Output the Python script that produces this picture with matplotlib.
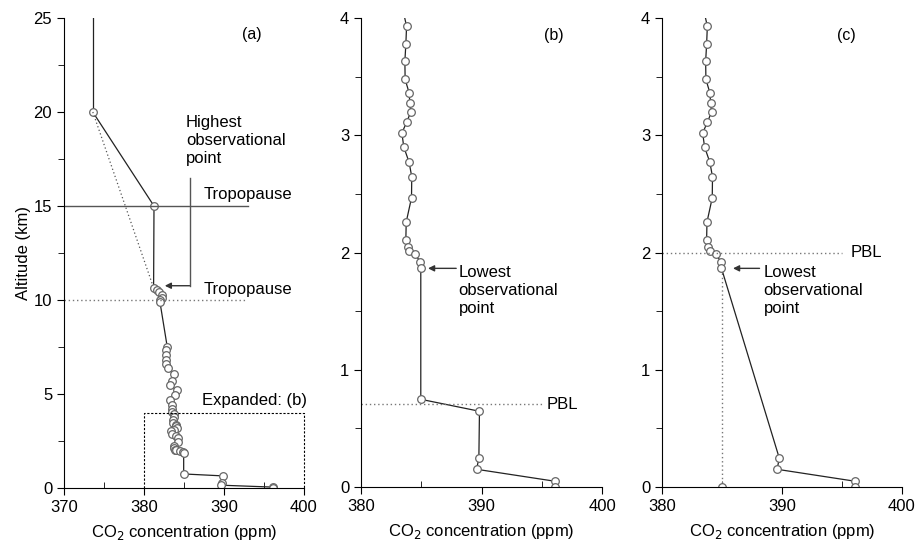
import matplotlib
matplotlib.use("Agg")
import matplotlib.pyplot as plt
from matplotlib.ticker import MultipleLocator
import numpy as np

plt.rcParams['font.family'] = ['Liberation Sans', 'DejaVu Sans']

# ---- data: measured profile (altitude km, CO2 ppm), top to bottom ----
alt_upper = [10.65, 10.53, 10.41, 10.27, 10.12, 10.00, 9.88, 7.52, 7.34, 7.07, 6.81,
             6.58, 6.37, 6.05, 5.69, 5.48, 5.21, 4.95, 4.68, 4.41, 4.20, 4.06]
co2_upper = [381.2, 381.6, 381.9, 382.2, 382.2, 382.0, 382.0, 382.9, 382.8, 382.75, 382.8,
             382.75, 383.0, 383.7, 383.5, 383.2, 384.1, 383.9, 383.3, 383.5, 383.5, 383.5]

alt_mid = [3.93, 3.776, 3.633, 3.477, 3.363, 3.278, 3.20, 3.11, 3.02, 2.90, 2.77,
           2.646, 2.467, 2.26, 2.11, 2.044, 2.015, 1.99, 1.92, 1.865]
co2_mid = [383.78, 383.72, 383.64, 383.66, 383.99, 384.05, 384.13, 383.78, 383.39, 383.55,
           383.99, 384.21, 384.19, 383.75, 383.72, 383.86, 383.99, 384.49, 384.9, 384.96]

alt_pbl = [0.748, 0.646]
co2_pbl = [384.96, 389.83]

alt_low = [0.245, 0.151, 0.049, 0.0]
co2_low = [389.78, 389.59, 396.09, 396.09]

# extrapolation above the highest observational point (panel a)
alt_strat = [25.0, 20.0, 15.0]
co2_strat = [373.6, 373.6, 381.25]

tropopause_obs = 15.0
tropopause_est = 10.0
pbl_b = 0.705
pbl_c = 2.0
surface_fill_co2 = 385.0

alt_all = alt_upper + alt_mid + alt_pbl + alt_low
co2_all = co2_upper + co2_mid + co2_pbl + co2_low
alt_c = alt_upper + alt_mid + alt_low
co2_c = co2_upper + co2_mid + co2_low

LC = '#222222'
MC = '#666666'
DOT = (0, (1, 2))
FS = 12

fig = plt.figure(figsize=(9.17, 5.44), dpi=100)
axA = fig.add_axes([0.0698, 0.1029, 0.2617, 0.864])
axB = fig.add_axes([0.3937, 0.1048, 0.2628, 0.862])
axC = fig.add_axes([0.7219, 0.1048, 0.2617, 0.862])

mk = dict(marker='o', markersize=5.5, markerfacecolor='white', markeredgecolor=MC,
          markeredgewidth=0.9, color=LC, lw=0.9)
mk_only = {k: v for k, v in mk.items() if k not in ('color', 'lw')}

def style(ax, xlim, ylim, xmaj, xmin, ymaj, ymin):
    ax.set_xlim(*xlim)
    ax.set_ylim(*ylim)
    for s in ('top', 'right'):
        ax.spines[s].set_visible(False)
    ax.xaxis.set_major_locator(MultipleLocator(xmaj))
    ax.xaxis.set_minor_locator(MultipleLocator(xmin))
    ax.yaxis.set_major_locator(MultipleLocator(ymaj))
    ax.yaxis.set_minor_locator(MultipleLocator(ymin))
    ax.tick_params(axis='x', which='major', direction='out', length=5, labelsize=12)
    ax.tick_params(axis='x', which='minor', direction='in', length=4)
    ax.tick_params(axis='y', which='major', direction='out', length=5, labelsize=12)
    ax.tick_params(axis='y', which='minor', direction='out', length=4)
    ax.set_xlabel('CO$_2$ concentration (ppm)', fontsize=FS, labelpad=6)

# ---- panel (a) ----
style(axA, (370, 400), (0, 25), 10, 5, 5, 2.5)
axA.set_ylabel('Altitude (km)', fontsize=FS, labelpad=2)
axA.plot(co2_strat[:2], alt_strat[:2], color=LC, lw=0.9)
axA.plot(co2_strat[1:] + [co2_upper[0]], alt_strat[1:] + [alt_upper[0]], color=LC, lw=0.9)
axA.plot(co2_strat[1:], alt_strat[1:], ls='none', **mk_only)
axA.plot([co2_strat[1], co2_upper[0]], [alt_strat[1], alt_upper[0]], color='#555555', lw=0.9, ls=DOT)
axA.plot(co2_all, alt_all, clip_on=True, **mk)
axA.plot([370, 393], [tropopause_obs] * 2, color='#555555', lw=1.0)
axA.plot([370, 392.8], [tropopause_est] * 2, color='#777777', lw=1.0, ls=DOT)
axA.text(387.4, 15.6, 'Tropopause', fontsize=FS, va='center', ha='left')
axA.text(387.5, 10.55, 'Tropopause', fontsize=FS, va='center', ha='left')
axA.text(385.25, 18.5, 'Highest\nobservational\npoint', fontsize=FS, va='center', ha='left',
         linespacing=1.25)
axA.plot([385.7, 385.7], [16.5, 10.76], color='#555555', lw=1.0)
axA.annotate('', xy=(382.6, 10.76), xytext=(385.7, 10.76),
             arrowprops=dict(arrowstyle='-|>', color='#333333', lw=1.0,
                             shrinkA=0, shrinkB=0, mutation_scale=9))
axA.plot([380, 380, 400, 400], [0, 4, 4, 0], color='black', lw=0.8, ls=(0, (2, 1.5)), clip_on=False)
axA.text(387.2, 4.64, 'Expanded: (b)', fontsize=FS, va='center', ha='left')
axA.text(393.5, 24.1, '(a)', fontsize=FS - 0.5, va='center', ha='center')

# ---- panel (b) ----
style(axB, (380, 400), (0, 4), 10, 5, 1, 0.5)
axB.plot(co2_all, alt_all, **mk)
axB.plot([380, 395.2], [pbl_b] * 2, color='#777777', lw=1.0, ls=DOT)
axB.text(395.4, pbl_b, 'PBL', fontsize=FS, va='center', ha='left')
axB.annotate('', xy=(385.56, 1.865), xytext=(387.9, 1.865),
             arrowprops=dict(arrowstyle='-|>', color='#333333', lw=1.0,
                             shrinkA=0, shrinkB=0, mutation_scale=9))
axB.text(388.1, 1.68, 'Lowest\nobservational\npoint', fontsize=FS, va='center', ha='left',
         linespacing=1.25)
axB.text(396.0, 3.855, '(b)', fontsize=FS - 0.5, va='center', ha='center')

# ---- panel (c) ----
style(axC, (380, 400), (0, 4), 10, 5, 1, 0.5)
axC.plot([surface_fill_co2, surface_fill_co2], [0, alt_mid[-1]], color='#777777', lw=1.0, ls=DOT)
axC.plot(co2_c, alt_c, **mk)
axC.plot([surface_fill_co2], [0], ls='none', **mk_only)
axC.plot([380, 395.0], [pbl_c] * 2, color='#777777', lw=1.0, ls=DOT)
axC.text(395.7, pbl_c, 'PBL', fontsize=FS, va='center', ha='left')
axC.annotate('', xy=(385.92, 1.865), xytext=(388.13, 1.865),
             arrowprops=dict(arrowstyle='-|>', color='#333333', lw=1.0,
                             shrinkA=0, shrinkB=0, mutation_scale=9))
axC.text(388.46, 1.68, 'Lowest\nobservational\npoint', fontsize=FS, va='center', ha='left',
         linespacing=1.25)
axC.text(395.4, 3.855, '(c)', fontsize=FS - 0.5, va='center', ha='center')

fig.savefig('out.png', dpi=100)
